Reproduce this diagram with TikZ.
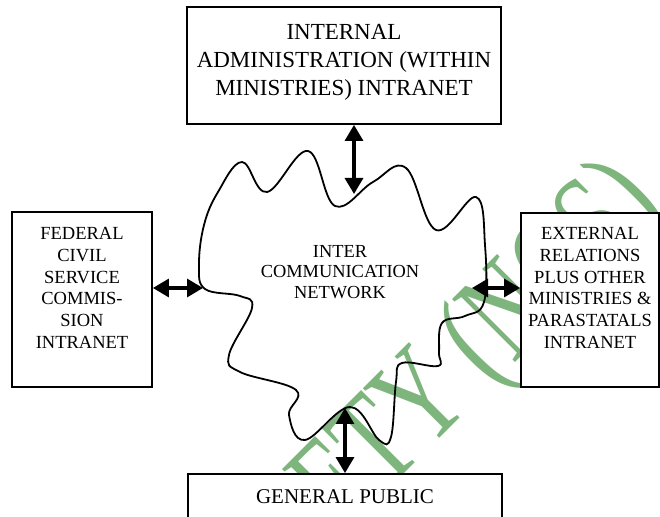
\documentclass[tikz,border=0pt]{standalone}
\usepackage{fontspec}
\setmainfont{Liberation Serif}
\usetikzlibrary{arrows.meta,positioning}
\definecolor{sealgreen}{RGB}{125,181,125}
\newcommand{\bigfont}{\fontsize{11.5}{14}\selectfont}
\newcommand{\midfont}{\fontsize{10.5}{12.6}\selectfont}
\newcommand{\sidefont}{\fontsize{9.25}{10.85}\selectfont}
\newcommand{\netfont}{\fontsize{9.2}{10.25}\selectfont}
\tikzset{
  box/.style={draw, line width=0.9pt, fill=white, inner sep=0pt},
  boxtext/.style={align=center, inner sep=0pt},
  link/.style={line width=1.6pt,
    {Triangle[width=9pt,length=8pt]}-{Triangle[width=9pt,length=8pt]}},
  cloudline/.style={line width=0.9pt, line join=round}
}
\begin{document}
\begin{tikzpicture}[x=0.5pt,y=-0.5pt]
\clip (0,0) rectangle (660,517);

% watermark
\node[text=sealgreen, font=\fontsize{68}{78}\selectfont, rotate=45, xscale=0.7, inner sep=0pt] (seal) at (482,350) {ETY (NCS)};

% boxes
\node[box, minimum width=157pt, minimum height=58.5pt] (admin) at (344,65.5) {};
\node[boxtext, font=\bigfont, below=9pt of admin.north] (admintext) {INTERNAL\\ADMINISTRATION (WITHIN\\MINISTRIES) INTRANET};

\node[box, minimum width=70pt, minimum height=87.5pt] (fcsc) at (82,299.5) {};
\node[boxtext, font=\sidefont, below=8pt of fcsc.north] (fcsctext) {FEDERAL\\CIVIL\\SERVICE\\COMMIS-\\SION\\INTRANET};

\node[box, minimum width=69pt, minimum height=87pt] (ext) at (590,300) {};
\node[boxtext, font=\sidefont, below=7.5pt of ext.north] (exttext) {EXTERNAL\\RELATIONS\\PLUS OTHER\\MINISTRIES \&\\PARASTATALS\\INTRANET};

\node[box, minimum width=157pt, minimum height=43pt] (public) at (345,517) {};
\node[boxtext, font=\midfont, below=8pt of public.north] (publictext) {GENERAL PUBLIC};

% network cloud
\draw[cloudline] plot[smooth cycle, tension=0.65] coordinates {
  (199,265) (204,225) (218,192) (242,162) (267,192) (308,151) (335,206)
  (373,182) (406,168) (436,230) (476,197) (485,245) (484,302) (465,316)
  (442,323) (439,352) (438,366) (402,363) (396,382) (391,437) (379,440)
  (350,407) (305,440) (289,415) (296,390) (240,372) (229,355) (252,308)
  (240,296) (205,289)};
\node[boxtext, font=\netfont] (nettext) at (340,272) {INTER\\COMMUNICATION\\NETWORK};

\coordinate (cloudN) at (354,194);
\coordinate (cloudW) at (203,288);
\coordinate (cloudE) at (472,288);
\coordinate (cloudS) at (345,408);

% links
\draw[link] (admin.south -| cloudN) -- (cloudN);
\draw[link] (fcsc.east |- cloudW) -- (cloudW);
\draw[link] (ext.west |- cloudE) -- (cloudE);
\draw[link] (public.north -| cloudS) -- (cloudS);
\end{tikzpicture}
\end{document}
